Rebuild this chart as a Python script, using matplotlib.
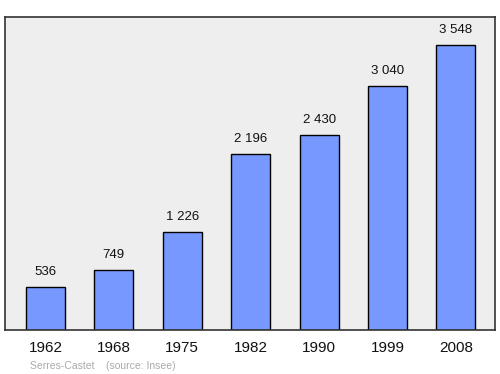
import matplotlib
matplotlib.use("Agg")
import matplotlib.pyplot as plt

years = ["1962", "1968", "1975", "1982", "1990", "1999", "2008"]
population = [536, 749, 1226, 2196, 2430, 3040, 3548]
value_labels = ["536", "749", "1 226", "2 196", "2 430", "3 040", "3 548"]

plt.rcParams["font.family"] = ["Liberation Sans", "DejaVu Sans"]

fig = plt.figure(figsize=(5, 3.74), dpi=100)
ax = fig.add_axes([0.01, 0.1176, 0.98, 0.837])
ax.set_facecolor("#eeeeee")

x = list(range(len(years)))
ax.bar(x, population, width=0.57, color="#7799ff", edgecolor="black", linewidth=1)

ymax = max(population) * 1.1
ax.set_ylim(0, ymax)
ax.set_xlim(-0.59, 6.57)

for xi, v, lab in zip(x, population, value_labels):
    ax.annotate(lab, (xi, v), xytext=(0, 6.5), textcoords="offset points",
                ha="center", va="bottom", fontsize=9.5, color="#111111")

ax.set_xticks(x)
ax.set_xticklabels(years, fontsize=11, color="#111111")
ax.tick_params(axis="x", length=0, pad=8)
ax.set_yticks([])
for s in ax.spines.values():
    s.set_color("#333333")
    s.set_linewidth(1.2)

fig.text(0.06, 0.014, "Serres-Castet    (source: Insee)", fontsize=7.5, color="#aaaaaa")

fig.savefig("out.png", dpi=100)
